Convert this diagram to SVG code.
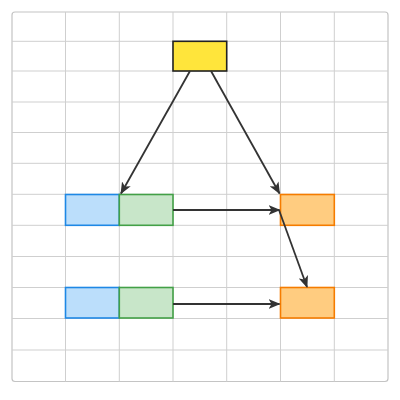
<svg xmlns="http://www.w3.org/2000/svg" width="400" height="400" viewBox="0 0 400 400">
<defs>
<style>
.grid line{stroke:#cfcfcf;stroke-width:1}
.frame{fill:#fff;stroke:#c4c4c4;stroke-width:1.2}
.node{stroke-width:1.6}
.yellow{fill:#ffe53b;stroke:#222}
.blue{fill:#bbdefb;stroke:#1e88e5}
.green{fill:#c8e6c9;stroke:#43a047}
.orange{fill:#ffcc80;stroke:#f57c00}
.edge{stroke:#333;stroke-width:1.8;fill:none;marker-end:url(#arr)}
</style>
<marker id="arr" viewBox="0 0 12 10" refX="11" refY="5" markerWidth="12" markerHeight="10" markerUnits="userSpaceOnUse" orient="auto">
<path d="M0,0 L12,5 L0,10 L3,5 z" fill="#333"/>
</marker>
</defs>
<rect class="frame" x="12" y="12" width="376" height="369.5" rx="3"/>
<g class="grid">
<line x1="65.5" y1="12" x2="65.5" y2="381.5"/>
<line x1="119.3" y1="12" x2="119.3" y2="381.5"/>
<line x1="173" y1="12" x2="173" y2="381.5"/>
<line x1="226.7" y1="12" x2="226.7" y2="381.5"/>
<line x1="280.5" y1="12" x2="280.5" y2="381.5"/>
<line x1="334.3" y1="12" x2="334.3" y2="381.5"/>
<line x1="12" y1="41.3" x2="388" y2="41.3"/>
<line x1="12" y1="71" x2="388" y2="71"/>
<line x1="12" y1="102" x2="388" y2="102"/>
<line x1="12" y1="132.5" x2="388" y2="132.5"/>
<line x1="12" y1="163.3" x2="388" y2="163.3"/>
<line x1="12" y1="194.3" x2="388" y2="194.3"/>
<line x1="12" y1="225.3" x2="388" y2="225.3"/>
<line x1="12" y1="256.5" x2="388" y2="256.5"/>
<line x1="12" y1="287.5" x2="388" y2="287.5"/>
<line x1="12" y1="318.5" x2="388" y2="318.5"/>
<line x1="12" y1="350" x2="388" y2="350"/>
</g>
<g id="n-yellow"><rect class="node yellow" x="173" y="41.3" width="53.7" height="29.7"/></g>
<g id="n-blue1"><rect class="node blue" x="65.5" y="194.5" width="53.8" height="30.8"/></g>
<g id="n-green1"><rect class="node green" x="119.3" y="194.5" width="53.7" height="30.8"/></g>
<g id="n-orange1"><rect class="node orange" x="280.5" y="194.5" width="53.8" height="30.8"/></g>
<g id="n-blue2"><rect class="node blue" x="65.5" y="287.5" width="53.8" height="30.5"/></g>
<g id="n-green2"><rect class="node green" x="119.3" y="287.5" width="53.7" height="30.5"/></g>
<g id="n-orange2"><rect class="node orange" x="280.5" y="287.5" width="53.8" height="30.5"/></g>
<g id="connectors">
<line class="edge" x1="190" y1="71" x2="121" y2="193.5"/>
<line class="edge" x1="211" y1="71" x2="279.5" y2="193.5"/>
<line class="edge" x1="173" y1="210" x2="279.5" y2="210"/>
<line class="edge" x1="279" y1="210" x2="307" y2="287"/>
<line class="edge" x1="173" y1="304" x2="279.5" y2="304"/>
</g>
</svg>
